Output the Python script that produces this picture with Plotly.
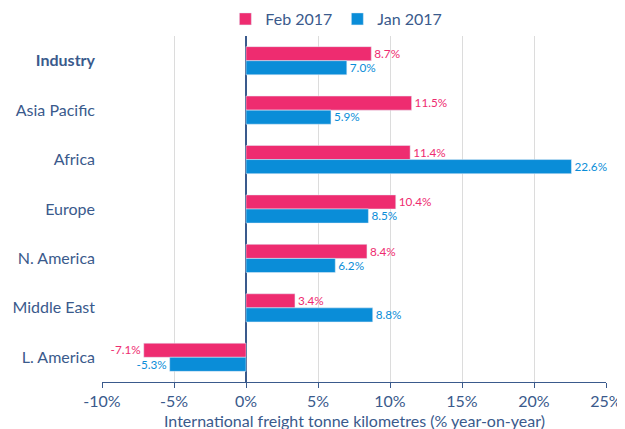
import plotly.graph_objects as go

categories = ["<b>Industry</b>", "Asia Pacific", "Africa", "Europe", "N. America", "Middle East", "L. America"]
feb_2017 = [8.7, 11.5, 11.4, 10.4, 8.4, 3.4, -7.1]
jan_2017 = [7.0, 5.9, 22.6, 8.5, 6.2, 8.8, -5.3]
tick_vals = [-10, -5, 0, 5, 10, 15, 20, 25]
tick_text = ["-10%", "-5%", "0%", "5%", "10%", "15%", "20%", "25%"]
x_title = "International freight tonne kilometres (% year-on-year)"

PINK = "#EE2C70"
BLUE = "#0A8DD8"
TEXT = "#3A5A8C"
FONT = "Lato"

fig = go.Figure()
fig.add_trace(go.Bar(
    name="Feb 2017", y=categories, x=feb_2017, orientation="h",
    marker_color=PINK, text=[f"{v:.1f}%" for v in feb_2017],
    textposition="outside", textfont=dict(color=PINK, size=12.5, family=FONT),
    cliponaxis=False,
))
fig.add_trace(go.Bar(
    name="Jan 2017", y=categories, x=jan_2017, orientation="h",
    marker_color=BLUE, text=[f"{v:.1f}%" for v in jan_2017],
    textposition="outside", textfont=dict(color=BLUE, size=12.5, family=FONT),
    cliponaxis=False,
))

# page body has an 8px default margin, so the figure is sized to fit the 625x429 window
fig.update_layout(
    width=617, height=421,
    margin=dict(l=94, r=19, t=28, b=47, autoexpand=False),
    paper_bgcolor="white", plot_bgcolor="white",
    barmode="group", bargap=0.43, bargroupgap=0,
    font=dict(family=FONT, color=TEXT, size=16),
    legend=dict(orientation="h", x=0.465, y=1.0, xanchor="center", yanchor="bottom",
                font=dict(size=16, color=TEXT), traceorder="normal",
                itemwidth=30, bgcolor="rgba(0,0,0,0)"),
    showlegend=True,
    annotations=[dict(text=x_title, xref="paper", yref="paper", x=0.5, y=0,
                      yshift=-38, xanchor="center", yanchor="middle", showarrow=False,
                      font=dict(size=16, color=TEXT))],
)
fig.update_xaxes(
    range=[-10, 25], tickvals=tick_vals, ticktext=tick_text,
    showgrid=True, gridcolor="#DCDCDC", gridwidth=1,
    zeroline=True, zerolinecolor=TEXT, zerolinewidth=1.5,
    showline=True, linecolor=TEXT, linewidth=1,
    ticks="outside", ticklen=5, tickcolor=TEXT,
    tickfont=dict(size=16, color=TEXT), automargin=False,
)
fig.update_yaxes(
    autorange="reversed", showgrid=False, ticks="", showline=False,
    tickfont=dict(size=16, color=TEXT), ticklabelstandoff=6, automargin=False,
)

fig.write_html("out.html")
